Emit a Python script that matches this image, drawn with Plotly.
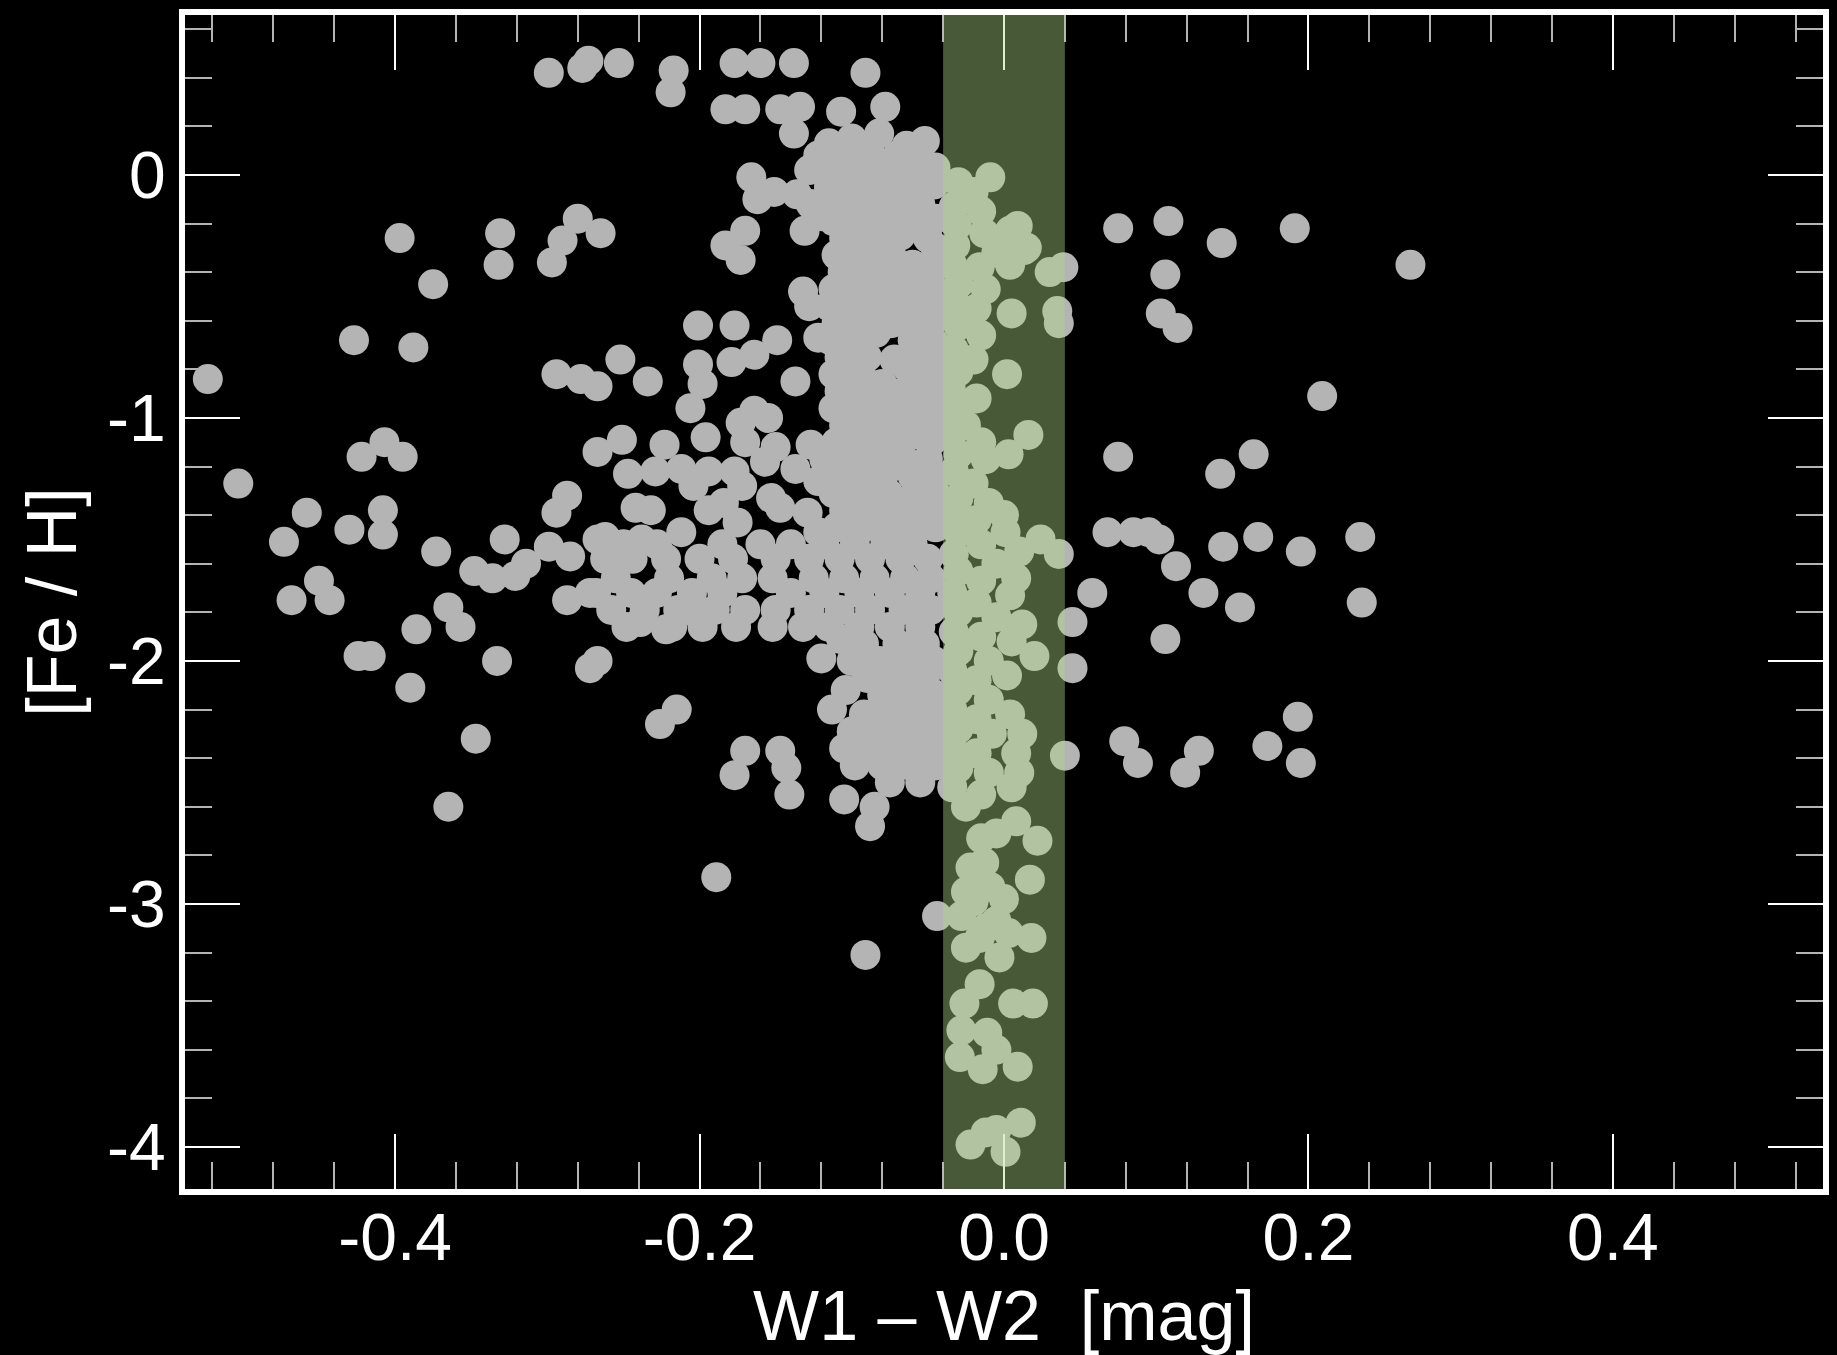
import plotly.graph_objects as go

# ---------------- data: (W1-W2 [mag], [Fe/H]) ----------------
left_scatter = [
    (-0.523, -0.84), (-0.503, -1.27), (-0.473, -1.51), (-0.468, -1.75), (-0.458, -1.39),
    (-0.450, -1.67), (-0.443, -1.75), (-0.427, -0.68), (-0.430, -1.46), (-0.422, -1.16),
    (-0.424, -1.98), (-0.416, -1.98), (-0.408, -1.38), (-0.408, -1.48), (-0.407, -1.10),
    (-0.395, -1.16), (-0.397, -0.26), (-0.388, -0.71), (-0.390, -2.11), (-0.386, -1.87),
    (-0.375, -0.45), (-0.373, -1.55), (-0.365, -1.78), (-0.357, -1.86), (-0.365, -2.60),
    (-0.347, -2.32), (-0.348, -1.63), (-0.336, -1.66), (-0.321, -1.65), (-0.314, -1.60),
    (-0.333, -2.00), (-0.331, -0.24), (-0.332, -0.37), (-0.328, -1.50), (-0.297, -0.36),
    (-0.290, -0.27), (-0.280, -0.18), (-0.265, -0.24), (-0.294, -0.82), (-0.278, -0.84),
    (-0.267, -0.87), (-0.252, -0.76), (-0.234, -0.85), (-0.287, -1.32), (-0.294, -1.39),
    (-0.299, -1.53), (-0.285, -1.57), (-0.267, -1.50), (-0.267, -1.14), (-0.287, -1.75),
    (-0.272, -1.72), (-0.267, -2.00), (-0.272, -2.03),
]

upper_scatter = [
    (-0.299, 0.42), (-0.277, 0.44), (-0.273, 0.47), (-0.253, 0.46), (-0.217, 0.43),
    (-0.219, 0.34), (-0.177, 0.46), (-0.160, 0.46), (-0.138, 0.46), (-0.183, 0.27),
    (-0.170, 0.27), (-0.147, 0.27), (-0.134, 0.28), (-0.107, 0.26), (-0.078, 0.28),
    (-0.091, 0.42), (-0.138, 0.17), (-0.052, 0.14),
]

middle_scatter = [
    (-0.166, -0.01), (-0.162, -0.10), (-0.151, -0.07), (-0.136, -0.08), (-0.127, -0.12),
    (-0.131, -0.23), (-0.120, -0.17), (-0.170, -0.23), (-0.183, -0.29), (-0.173, -0.35),
    (-0.132, -0.48), (-0.128, -0.54), (-0.122, -0.67), (-0.201, -0.62), (-0.177, -0.62),
    (-0.164, -0.74), (-0.149, -0.68), (-0.179, -0.77), (-0.201, -0.78), (-0.198, -0.86),
    (-0.137, -0.85), (-0.206, -0.96), (-0.173, -1.02), (-0.164, -0.97), (-0.155, -1.00),
    (-0.251, -1.09), (-0.223, -1.11), (-0.196, -1.08), (-0.170, -1.10), (-0.150, -1.12),
    (-0.127, -1.11), (-0.247, -1.23), (-0.229, -1.22), (-0.212, -1.21), (-0.194, -1.22),
    (-0.177, -1.22), (-0.157, -1.18), (-0.137, -1.21), (-0.122, -1.26), (-0.204, -1.28),
    (-0.172, -1.28), (-0.153, -1.33), (-0.184, -1.35), (-0.242, -1.37), (-0.232, -1.38),
    (-0.194, -1.38), (-0.175, -1.43), (-0.147, -1.37), (-0.129, -1.39), (-0.122, -1.47),
    (-0.262, -1.49), (-0.238, -1.50), (-0.212, -1.47),
]

lower_scatter = [
    (-0.239, -1.84), (-0.218, -1.86), (-0.201, -1.81), (-0.215, -2.20), (-0.226, -2.26),
    (-0.170, -2.37), (-0.177, -2.47), (-0.147, -2.37), (-0.143, -2.44), (-0.141, -2.55),
    (-0.107, -1.91), (-0.120, -1.99), (-0.104, -2.12), (-0.113, -2.20), (-0.092, -2.22),
    (-0.062, -2.09), (-0.059, -2.20), (-0.105, -2.57), (-0.085, -2.60), (-0.088, -2.68),
    (-0.189, -2.89), (-0.044, -3.05), (-0.091, -3.21),
]

metal_poor_band = [  # dense horizontal ridge around [Fe/H] ~ -1.5 .. -1.9
    (-0.250, -1.52), (-0.228, -1.52), (-0.185, -1.52), (-0.160, -1.52), (-0.140, -1.52),
    (-0.118, -1.52), (-0.098, -1.52), (-0.078, -1.52), (-0.060, -1.52),
    (-0.262, -1.58), (-0.244, -1.58), (-0.222, -1.58), (-0.200, -1.58), (-0.178, -1.58),
    (-0.150, -1.58), (-0.128, -1.58), (-0.108, -1.58), (-0.088, -1.58), (-0.068, -1.58),
    (-0.050, -1.58),
    (-0.255, -1.66), (-0.220, -1.66), (-0.192, -1.66), (-0.172, -1.66), (-0.152, -1.66),
    (-0.125, -1.66), (-0.105, -1.66), (-0.085, -1.66), (-0.065, -1.66), (-0.048, -1.66),
    (-0.268, -1.72), (-0.245, -1.72), (-0.228, -1.72), (-0.205, -1.72), (-0.185, -1.72),
    (-0.140, -1.72), (-0.118, -1.72), (-0.095, -1.72), (-0.075, -1.72), (-0.055, -1.72),
    (-0.258, -1.79), (-0.236, -1.79), (-0.214, -1.79), (-0.190, -1.79), (-0.170, -1.79),
    (-0.150, -1.79), (-0.128, -1.79), (-0.108, -1.79), (-0.088, -1.79), (-0.066, -1.79),
    (-0.048, -1.79),
    (-0.248, -1.86), (-0.222, -1.87), (-0.198, -1.86), (-0.176, -1.86), (-0.152, -1.86),
    (-0.132, -1.86), (-0.115, -1.86), (-0.095, -1.86), (-0.075, -1.86), (-0.055, -1.86),
    (-0.092, -1.93), (-0.070, -1.93), (-0.052, -1.93),
]

central_column = [
    (-0.100, 0.15), (-0.082, 0.17), (-0.115, 0.13), (-0.064, 0.12),
    (-0.122, 0.08), (-0.105, 0.08), (-0.088, 0.09), (-0.070, 0.08), (-0.055, 0.07),
    (-0.128, 0.02), (-0.110, 0.02), (-0.092, 0.01), (-0.075, 0.02), (-0.058, 0.01), (-0.045, 0.03),
    (-0.115, -0.05), (-0.098, -0.05), (-0.080, -0.04), (-0.062, -0.05), (-0.046, -0.04),
    (-0.108, -0.12), (-0.090, -0.12), (-0.072, -0.11), (-0.055, -0.12),
    (-0.112, -0.19), (-0.094, -0.19), (-0.076, -0.18), (-0.058, -0.19), (-0.045, -0.18),
    (-0.105, -0.26), (-0.086, -0.26), (-0.068, -0.25), (-0.050, -0.26),
    (-0.110, -0.33), (-0.092, -0.33), (-0.074, -0.33), (-0.045, -0.30), (-0.085, -0.30),
    (-0.060, -0.37), (-0.044, -0.37),
    (-0.106, -0.40), (-0.088, -0.40), (-0.070, -0.40), (-0.050, -0.41),
    (-0.112, -0.47), (-0.094, -0.47), (-0.076, -0.47), (-0.058, -0.47), (-0.044, -0.48),
    (-0.100, -0.50), (-0.068, -0.51),
    (-0.115, -0.54), (-0.098, -0.54), (-0.080, -0.54), (-0.062, -0.55), (-0.046, -0.54),
    (-0.045, -0.59),
    (-0.110, -0.61), (-0.092, -0.61), (-0.074, -0.61), (-0.056, -0.61),
    (-0.084, -0.65),
    (-0.114, -0.68), (-0.096, -0.68), (-0.060, -0.68), (-0.046, -0.69),
    (-0.100, -0.72),
    (-0.108, -0.75), (-0.090, -0.75), (-0.072, -0.76), (-0.054, -0.75),
    (-0.064, -0.79), (-0.044, -0.77),
    (-0.112, -0.82), (-0.094, -0.82), (-0.058, -0.82), (-0.044, -0.83),
    (-0.080, -0.86),
    (-0.108, -0.89), (-0.088, -0.89), (-0.070, -0.90), (-0.052, -0.89),
    (-0.098, -0.93), (-0.062, -0.93), (-0.044, -0.91),
    (-0.112, -0.96), (-0.094, -0.96), (-0.076, -0.96), (-0.058, -0.96), (-0.045, -0.97),
    (-0.078, -1.00),
    (-0.105, -1.03), (-0.087, -1.03), (-0.069, -1.03), (-0.051, -1.03), (-0.044, -1.05),
    (-0.096, -1.07), (-0.060, -1.07),
    (-0.110, -1.10), (-0.092, -1.10), (-0.074, -1.10), (-0.048, -1.10),
    (-0.102, -1.17), (-0.084, -1.17), (-0.066, -1.17), (-0.050, -1.17), (-0.118, -1.17),
    (-0.076, -1.21),
    (-0.108, -1.24), (-0.090, -1.24), (-0.060, -1.24), (-0.045, -1.24),
    (-0.080, -1.28),
    (-0.112, -1.31), (-0.094, -1.31), (-0.076, -1.31), (-0.058, -1.31), (-0.045, -1.31),
    (-0.098, -1.34),
    (-0.105, -1.38), (-0.087, -1.38), (-0.069, -1.38), (-0.050, -1.38),
    (-0.064, -1.42),
    (-0.110, -1.45), (-0.092, -1.45), (-0.074, -1.45), (-0.056, -1.45), (-0.045, -1.45),
    (-0.100, -2.00), (-0.082, -2.00), (-0.064, -2.00), (-0.046, -2.00),
    (-0.090, -2.07), (-0.072, -2.07), (-0.052, -2.07),
    (-0.080, -2.14), (-0.062, -2.14), (-0.045, -2.14),
    (-0.075, -2.22), (-0.050, -2.22), (-0.068, -2.18),
    (-0.100, -2.29), (-0.082, -2.29), (-0.064, -2.29), (-0.046, -2.29),
    (-0.105, -2.36), (-0.088, -2.36), (-0.070, -2.36), (-0.052, -2.36),
    (-0.098, -2.43), (-0.080, -2.43), (-0.062, -2.43), (-0.045, -2.43),
    (-0.075, -2.50), (-0.055, -2.50),
]

band_members = [  # stars inside the highlighted colour window
    (-0.030, -0.03), (-0.009, -0.01), (-0.020, -0.07), (-0.033, -0.13), (-0.015, -0.15),
    (-0.031, -0.21), (-0.013, -0.24), (0.004, -0.23), (0.013, -0.31), (-0.005, -0.32),
    (-0.016, -0.38), (0.030, -0.40), (0.039, -0.38), (0.009, -0.21), (0.015, -0.30),
    (-0.032, -0.29), (-0.034, -0.37), (0.004, -0.37),
    (-0.030, -0.45), (-0.012, -0.47), (-0.033, -0.52), (-0.018, -0.55), (0.005, -0.57),
    (0.035, -0.56), (0.036, -0.61), (-0.030, -0.62), (-0.015, -0.66), (-0.033, -0.72),
    (-0.020, -0.76), (-0.030, -0.81), (0.002, -0.82), (-0.035, -0.88), (-0.018, -0.92),
    (-0.030, -0.97), (-0.025, -1.03), (-0.035, -1.08), (-0.015, -1.10), (0.016, -1.07),
    (-0.030, -1.15), (0.003, -1.15), (-0.012, -1.17), (-0.033, -1.22), (-0.020, -1.27),
    (-0.030, -1.33), (-0.010, -1.35), (-0.035, -1.40), (-0.018, -1.42), (0.000, -1.40),
    (-0.030, -1.47), (0.001, -1.47), (0.024, -1.50), (0.036, -1.56), (-0.015, -1.52),
    (-0.033, -1.56), (0.010, -1.55), (-0.005, -1.60), (-0.030, -1.63), (-0.015, -1.67),
    (0.008, -1.66), (-0.034, -1.72), (0.004, -1.73), (-0.018, -1.76), (-0.030, -1.80),
    (-0.005, -1.82), (0.012, -1.85), (-0.033, -1.88), (-0.015, -1.90), (0.005, -1.92),
    (-0.030, -1.96), (0.020, -1.98), (-0.010, -2.00), (-0.034, -2.04), (-0.018, -2.08),
    (0.002, -2.06), (-0.030, -2.12), (-0.010, -2.16), (-0.034, -2.20), (-0.018, -2.24),
    (0.004, -2.22), (-0.030, -2.28), (-0.008, -2.30), (0.012, -2.30), (-0.034, -2.36),
    (-0.018, -2.38), (0.008, -2.38), (-0.030, -2.44), (-0.010, -2.46), (0.010, -2.46),
    (-0.034, -2.52), (-0.015, -2.55), (0.005, -2.52), (-0.025, -2.60),
    (0.045, -1.84), (0.045, -2.03), (0.040, -2.39),
    (-0.015, -2.73), (-0.005, -2.71), (0.008, -2.66), (0.022, -2.74),
    (-0.013, -2.83), (-0.022, -2.85), (-0.009, -2.93), (0.017, -2.90), (-0.020, -2.99),
    (-0.025, -2.95), (0.000, -2.98), (-0.005, -3.07), (-0.028, -3.05), (-0.012, -3.10),
    (0.003, -3.12), (-0.016, -3.14), (0.018, -3.14), (-0.025, -3.18), (-0.003, -3.22),
    (-0.016, -3.33), (-0.026, -3.41), (0.006, -3.41), (0.019, -3.41), (-0.028, -3.52),
    (-0.011, -3.53), (-0.005, -3.60), (-0.029, -3.63), (-0.014, -3.68), (0.009, -3.67),
    (0.011, -3.90), (-0.022, -3.99), (-0.012, -3.94), (-0.005, -3.93), (0.001, -4.02),
]

right_scatter = [
    (0.075, -0.22), (0.108, -0.19), (0.143, -0.28), (0.191, -0.22), (0.267, -0.37),
    (0.106, -0.41), (0.103, -0.57), (0.114, -0.63), (0.209, -0.91), (0.075, -1.16),
    (0.164, -1.15), (0.142, -1.23), (0.068, -1.47), (0.085, -1.47), (0.095, -1.47),
    (0.102, -1.50), (0.113, -1.61), (0.144, -1.53), (0.167, -1.49), (0.195, -1.55),
    (0.234, -1.49), (0.058, -1.72), (0.131, -1.72), (0.155, -1.78), (0.235, -1.76),
    (0.106, -1.91), (0.079, -2.33), (0.088, -2.42), (0.119, -2.46), (0.128, -2.37),
    (0.173, -2.35), (0.193, -2.23), (0.195, -2.42),
]

x_ticks = [-0.4, -0.2, 0.0, 0.2, 0.4]
x_tick_labels = ["-0.4", "-0.2", "0.0", "0.2", "0.4"]
y_ticks = [0, -1, -2, -3, -4]
y_tick_labels = ["0", "-1", "-2", "-3", "-4"]
window_lo, window_hi = -0.04, 0.04

# ---------------- figure ----------------
all_pts = (left_scatter + upper_scatter + middle_scatter + lower_scatter +
           metal_poor_band + central_column + band_members + right_scatter)
xs = [p[0] for p in all_pts]
ys = [p[1] for p in all_pts]

FONT = "Liberation Sans, Arial, Helvetica, sans-serif"

fig = go.Figure()
fig.add_trace(go.Scatter(
    x=xs, y=ys, mode="markers",
    marker=dict(size=30, color="rgb(180,180,180)", line=dict(width=0)),
    hoverinfo="skip", showlegend=False,
))

fig.add_shape(type="rect", xref="x", yref="paper", x0=window_lo, x1=window_hi,
              y0=0, y1=1, fillcolor="rgb(175,217,137)", opacity=0.41,
              line=dict(width=0), layer="above")

axis_common = dict(
    showline=True, linewidth=6, linecolor="white", mirror="allticks",
    ticks="inside", tickcolor="white", tickwidth=2, ticklen=55,
    showgrid=False, zeroline=False,
    tickfont=dict(family=FONT, size=66, color="white"),
)

fig.update_xaxes(
    **axis_common,
    range=[-0.538, 0.538],
    tickmode="array", tickvals=x_ticks, ticktext=x_tick_labels,
    ticklabelstandoff=-14,
    minor=dict(tickmode="linear", tick0=0, dtick=0.04, ticks="inside",
               ticklen=27, tickwidth=2, tickcolor="#b4b4b4", showgrid=False),
    title=dict(text="W1 \u2013 W2\u00a0\u00a0[mag]",
               font=dict(family=FONT, size=70, color="white"), standoff=22),
)
fig.update_yaxes(
    **axis_common,
    range=[-4.173, 0.658],
    tickmode="array", tickvals=y_ticks, ticktext=y_tick_labels,
    minor=dict(tickmode="linear", tick0=0, dtick=0.2, ticks="inside",
               ticklen=27, tickwidth=2, tickcolor="#b4b4b4", showgrid=False),
    title=dict(text="[Fe / H]",
               font=dict(family=FONT, size=70, color="white"), standoff=10),
)

fig.update_layout(
    width=1837, height=1355,
    margin=dict(l=185, r=8, t=15, b=166, pad=0),
    paper_bgcolor="black", plot_bgcolor="black",
    font=dict(family=FONT, color="white"),
)

fig.write_html(
    "out.html",
    config={"displayModeBar": False},
    post_script="document.body.style.margin='0';document.body.style.background='black';",
)
